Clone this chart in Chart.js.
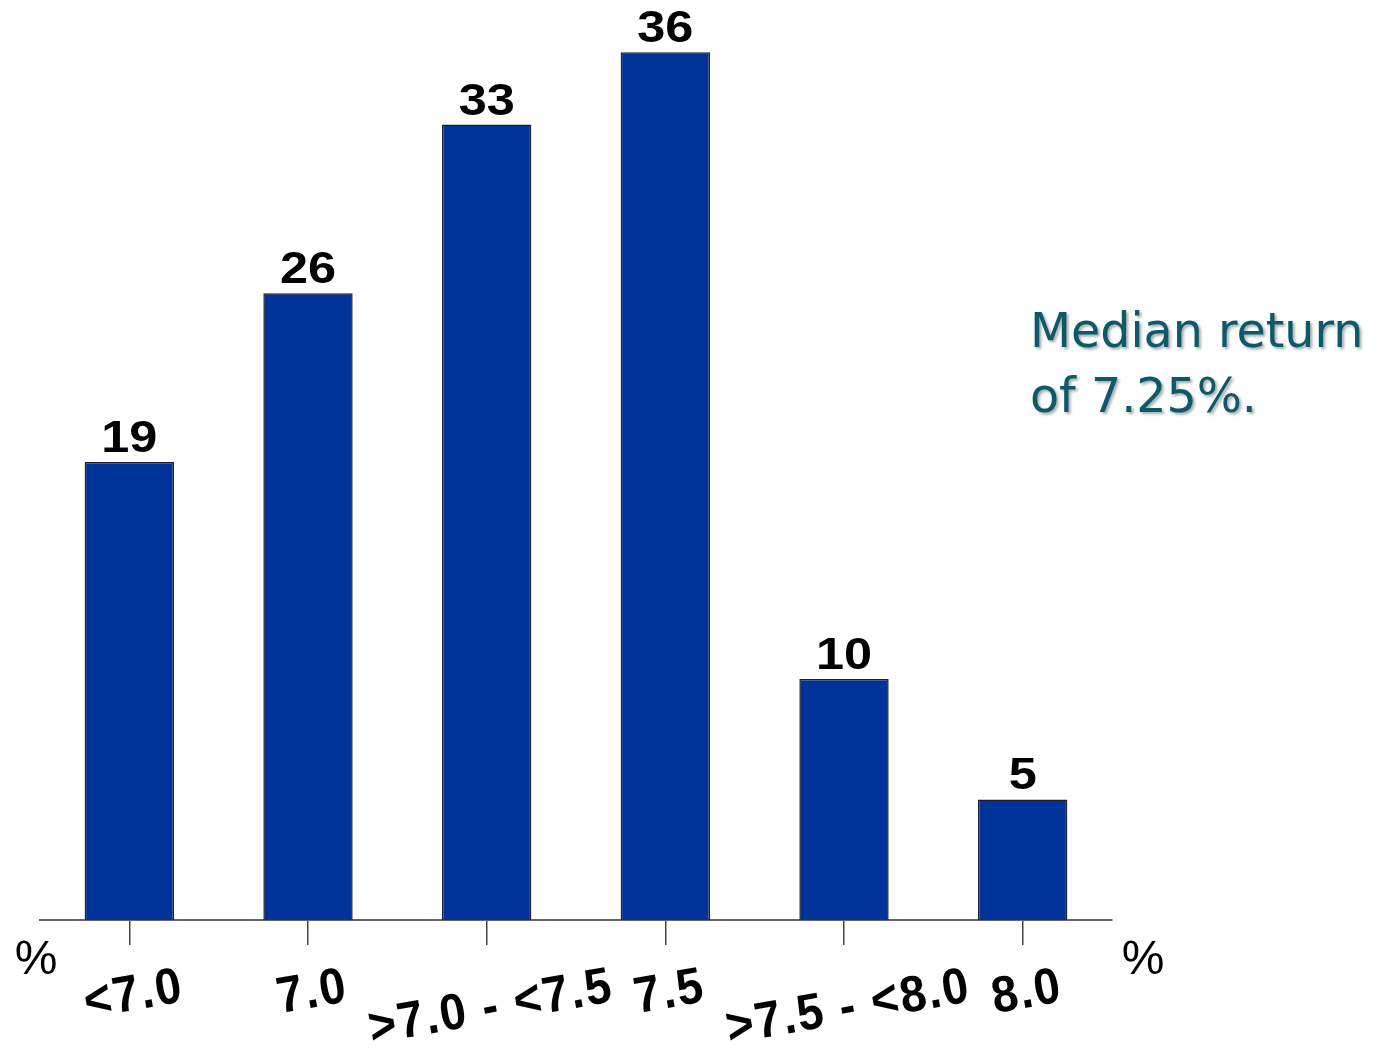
<!DOCTYPE html>
<html>
<head>
<meta charset="utf-8">
<script src="https://cdn.jsdelivr.net/npm/chart.js@4.4.1/dist/chart.umd.min.js"></script>
<style>
  html, body { margin: 0; padding: 0; background: #ffffff; }
  canvas { display: block; }
</style>
</head>
<body>
<canvas id="chart" width="1377" height="1055"></canvas>
<script>
  // categories + values
  const categories = ["<7.0", "7.0", ">7.0 - <7.5", "7.5", ">7.5 - <8.0", "8.0"];
  const values = [19, 26, 33, 36, 10, 5];
  const unitLabel = "%";
  const noteLines = ["Median return", "of 7.25%."];

  const barColor = "#003399";

  // text helper: rotate + horizontal stretch like the original
  function drawText(ctx, text, x, y, opts) {
    ctx.save();
    ctx.translate(x, y);
    ctx.rotate(opts.angle || 0);
    ctx.scale(opts.stretch || 1, 1);
    ctx.font = opts.font;
    ctx.letterSpacing = opts.spacing || "0px";
    ctx.fillStyle = opts.color || "#000";
    ctx.textAlign = opts.align || "center";
    ctx.textBaseline = opts.baseline || "alphabetic";
    ctx.fillText(text, 0, 0);
    ctx.restore();
  }

  const labelsPlugin = {
    id: "labels",
    afterDatasetsDraw(chart) {
      const ctx = chart.ctx;
      const meta = chart.getDatasetMeta(0);
      // value on top of every bar
      meta.data.forEach((bar, i) => {
        drawText(ctx, String(values[i]), bar.x, bar.y - 10, {
          font: "bold 45px 'Liberation Sans', Arial, sans-serif",
          stretch: 1.12
        });
      });

      // category labels, tilted, centred on the tick, right end top aligned
      const xScale = chart.scales.x;
      const area = chart.chartArea;
      const a = 10 * Math.PI / 180;
      const font = "bold 51px 'Liberation Sans', Arial, sans-serif";
      const spacing = "2px";
      const stretch = 0.92;
      const topY = area.bottom + 42;
      ctx.save();
      ctx.font = font;
      ctx.letterSpacing = spacing;
      categories.forEach((cat, i) => {
        const w = ctx.measureText(cat).width * stretch;
        const x = xScale.getPixelForValue(i);
        const rx = x + (w / 2) * Math.cos(a);
        drawText(ctx, cat, rx, topY, {
          font: font, spacing: spacing, stretch: stretch, angle: -a, align: "right", baseline: "top"
        });
      });
      ctx.restore();

      // % marks at both ends of the axis
      drawText(ctx, unitLabel, area.left - 4, area.bottom + 41, {
        font: "48px 'Liberation Sans', Arial, sans-serif", baseline: "middle"
      });
      drawText(ctx, unitLabel, area.right + 31, area.bottom + 41, {
        font: "48px 'Liberation Sans', Arial, sans-serif", baseline: "middle"
      });

      // note on the right
      ctx.save();
      ctx.shadowColor = "rgba(0,0,0,0.35)";
      ctx.shadowOffsetX = 2;
      ctx.shadowOffsetY = 2;
      ctx.shadowBlur = 3;
      noteLines.forEach((line, i) => {
        drawText(ctx, line, 1030, 347 + i * 65, {
          font: "48px 'DejaVu Sans', Verdana, sans-serif",
          color: "#0b5a6c",
          align: "left",
          stretch: 0.99
        });
      });
      ctx.restore();
    }
  };

  new Chart(document.getElementById("chart").getContext("2d"), {
    type: "bar",
    data: {
      labels: categories,
      datasets: [{
        data: values,
        backgroundColor: barColor,
        borderColor: "#1c1c2c",
        borderWidth: 1.5,
        borderSkipped: "bottom",
        barPercentage: 0.5,
        categoryPercentage: 1
      }]
    },
    options: {
      responsive: false,
      animation: false,
      events: [],
      layout: {
        padding: { left: 40, right: 265, top: 4, bottom: 110 }
      },
      plugins: {
        legend: { display: false },
        tooltip: { enabled: false }
      },
      scales: {
        x: {
          grid: {
            offset: false,
            drawOnChartArea: false,
            drawTicks: true,
            tickLength: 25,
            color: "#444",
            lineWidth: 1.5
          },
          border: { display: true, color: "#666", width: 2 },
          ticks: { display: false }
        },
        y: {
          display: false,
          min: 0,
          max: 38
        }
      }
    },
    plugins: [labelsPlugin]
  });
</script>
</body>
</html>
